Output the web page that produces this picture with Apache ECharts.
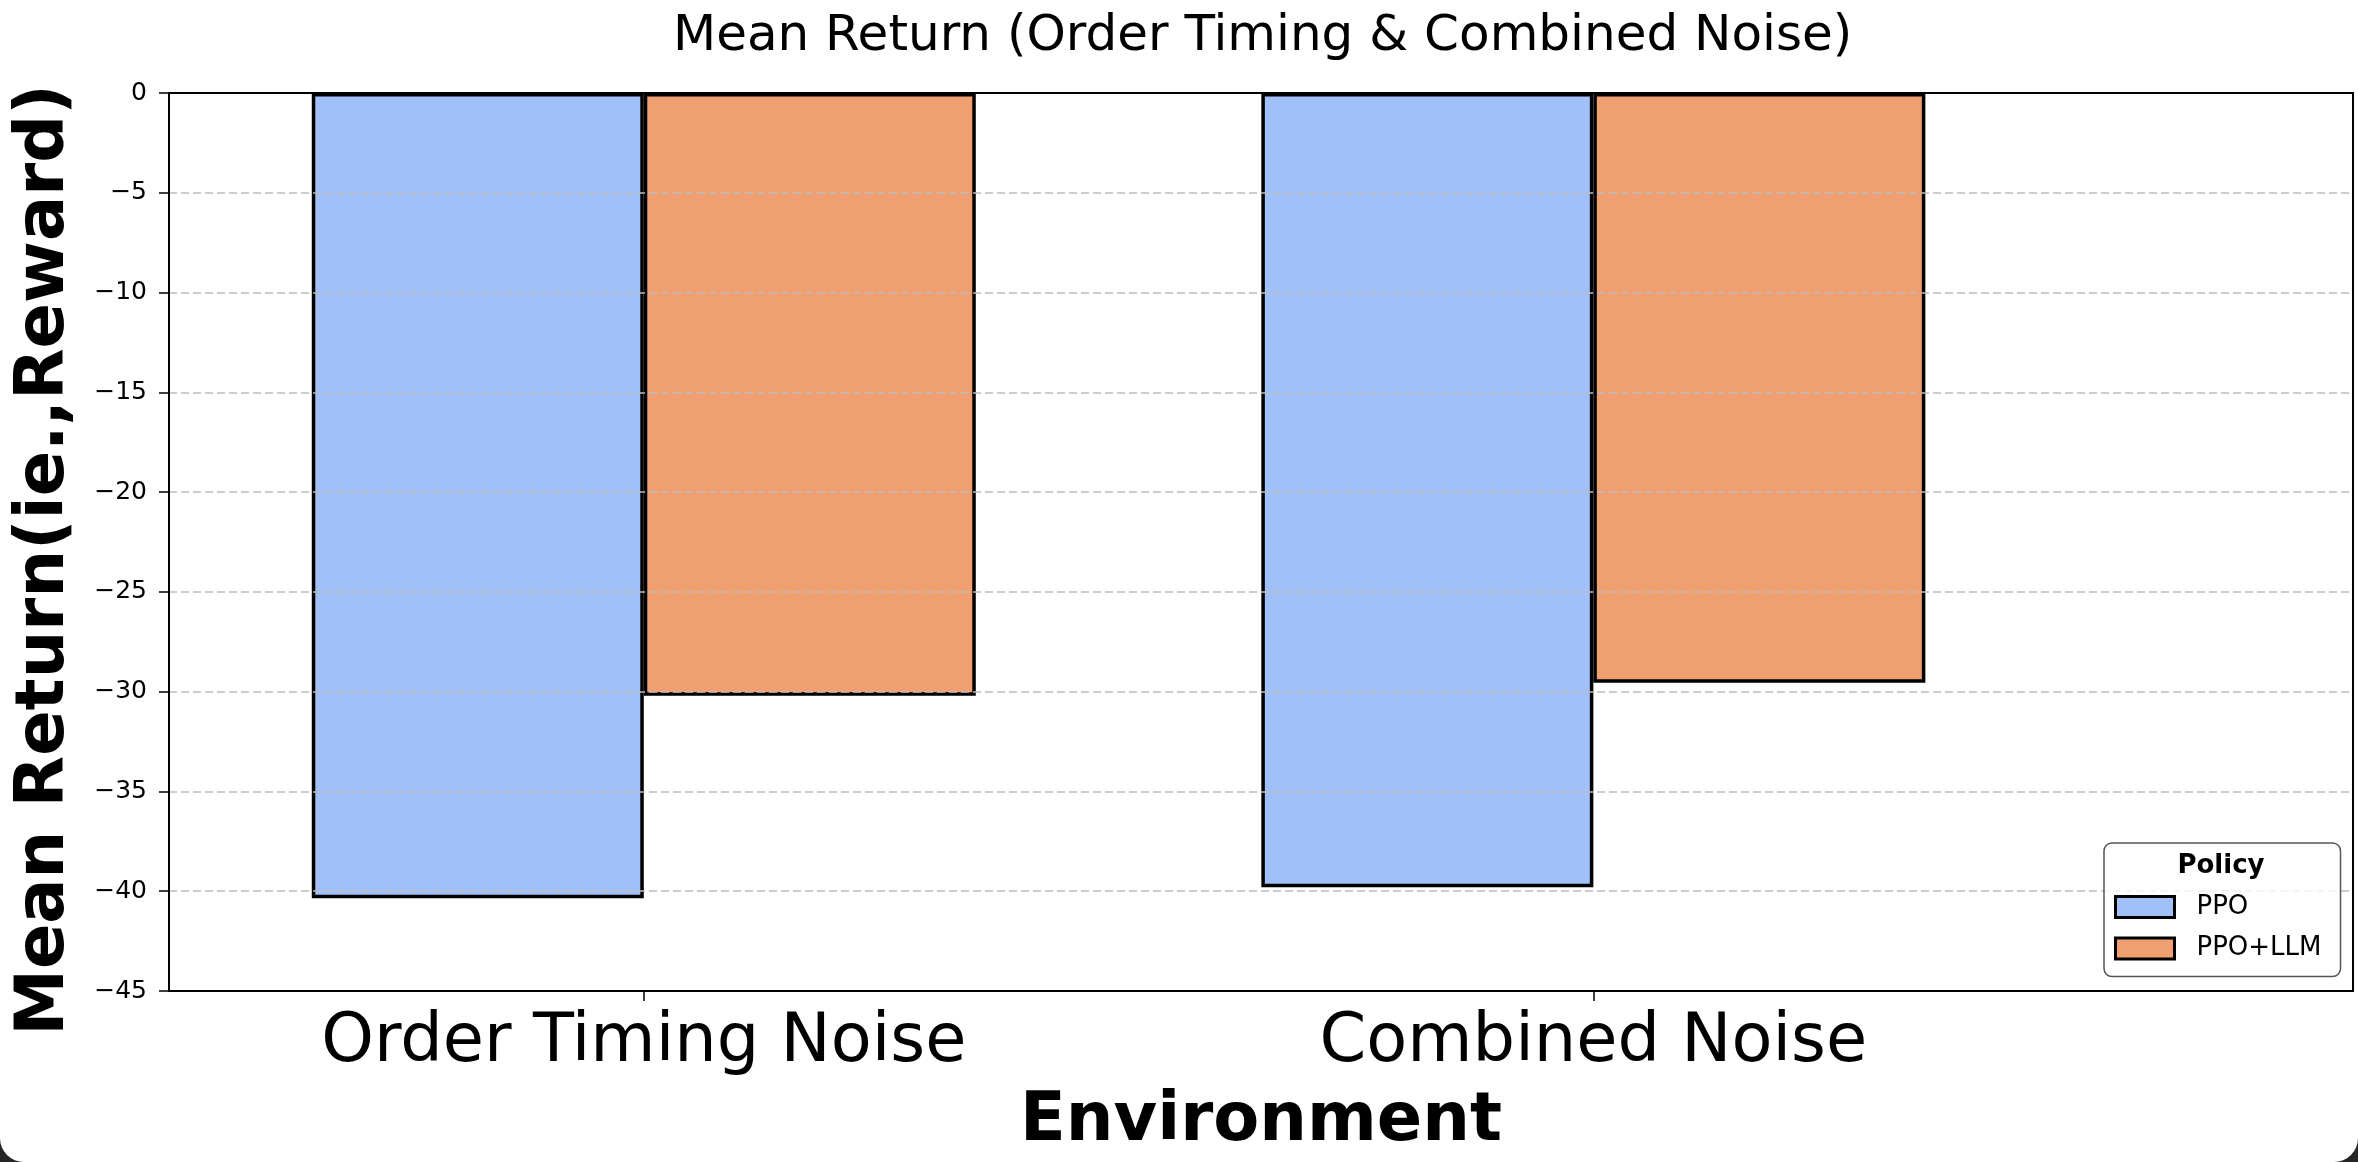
<!DOCTYPE html>
<html>
<head>
<meta charset="utf-8">
<script src="https://cdn.jsdelivr.net/npm/echarts@6/dist/echarts.min.js"></script>
<style>
  html, body { margin: 0; padding: 0; background: #262626; }
  #chart { width: 2358px; height: 1162px; background: #ffffff; border-radius: 0 0 24px 24px; }
</style>
</head>
<body>
<div id="chart"></div>
<script>
// ---- data ----
const categories = ['Order Timing Noise', 'Combined Noise'];
const seriesNames = ['PPO', 'PPO+LLM'];
const ppoValues = [-40.35, -39.8];
const ppoLlmValues = [-30.2, -29.55];
const yTicks = [0, -5, -10, -15, -20, -25, -30, -35, -40, -45];

const titleText = 'Mean Return (Order Timing & Combined Noise)';
const xAxisTitle = 'Environment';
const yAxisTitle = 'Mean Return(ie.,Reward)';
const legendTitle = 'Policy';

const FONT = 'DejaVu Sans';
const chart = echarts.init(document.getElementById('chart'));

function pairs(vals) { return vals.map((v, i) => [i, v]); }

chart.setOption({
  animation: false,
  title: {
    text: titleText,
    left: 673,
    top: 12,
    padding: 0,
    textStyle: { fontFamily: FONT, fontSize: 50, fontWeight: 'normal', color: '#000' }
  },
  grid: {
    left: 169, top: 93, width: 2184, height: 898,
    show: true, borderColor: '#000', borderWidth: 2, backgroundColor: 'transparent'
  },
  legend: {
    orient: 'vertical',
    left: 2104, top: 843,
    padding: [51, 19, 15, 10],
    itemWidth: 59, itemHeight: 21, itemGap: 15.6,
    icon: 'rect',
    backgroundColor: 'rgba(255,255,255,0.8)',
    borderColor: '#555', borderWidth: 1.5, borderRadius: 8,
    itemStyle: { borderColor: '#000', borderWidth: 3 },
    textStyle: { fontFamily: FONT, fontSize: 26, color: '#000', padding: [0, 0, 0, 17] },
    data: seriesNames,
    z: 10
  },
  graphic: [{
    type: 'text',
    x: 2221, y: 866,
    z: 20,
    style: {
      text: legendTitle,
      font: 'bold 26px "DejaVu Sans"',
      fill: '#000',
      textAlign: 'center',
      textVerticalAlign: 'middle'
    }
  }],
  xAxis: {
    type: 'value',
    min: -0.5, max: 1.8,
    name: xAxisTitle,
    nameLocation: 'middle',
    nameGap: 98,
    nameTextStyle: { fontFamily: FONT, fontSize: 67, fontWeight: 'bold', color: '#000' },
    axisLine: { show: true, onZero: false, lineStyle: { color: '#000', width: 2 } },
    axisTick: { show: true, customValues: [0, 1], length: 10, lineStyle: { color: '#000', width: 1.5 } },
    axisLabel: {
      customValues: [0, 1],
      margin: 19,
      fontFamily: FONT, fontSize: 67, color: '#000',
      formatter: v => categories[Math.round(v)] || ''
    },
    splitLine: { show: false }
  },
  yAxis: {
    type: 'value',
    min: -45, max: 0, interval: 5,
    z: 3,
    name: yAxisTitle,
    nameLocation: 'middle',
    nameGap: 90,
    nameTextStyle: { fontFamily: FONT, fontSize: 67, fontWeight: 'bold', color: '#000', padding: [0, 36, 0, 0] },
    axisLine: { show: true, onZero: false, lineStyle: { color: '#000', width: 2 } },
    axisTick: { show: true, length: 10, lineStyle: { color: '#000', width: 1.5 } },
    axisLabel: {
      margin: 22,
      fontFamily: FONT, fontSize: 25, color: '#000',
      formatter: v => String(v).replace('-', '\u2212')
    },
    splitLine: {
      show: true, showMinLine: false, showMaxLine: false,
      lineStyle: { color: '#bdbdbd', width: 1.5, type: [8, 4] }
    }
  },
  series: [
    {
      name: seriesNames[0], type: 'bar',
      data: pairs(ppoValues),
      barWidth: 332, barGap: '0%',
      itemStyle: { color: '#A1C0F8', borderColor: '#000', borderWidth: 3.5 }
    },
    {
      name: seriesNames[1], type: 'bar',
      data: pairs(ppoLlmValues),
      barWidth: 332, barGap: '0%',
      itemStyle: { color: '#F09F71', borderColor: '#000', borderWidth: 3.5 }
    }
  ]
});
</script>
</body>
</html>
